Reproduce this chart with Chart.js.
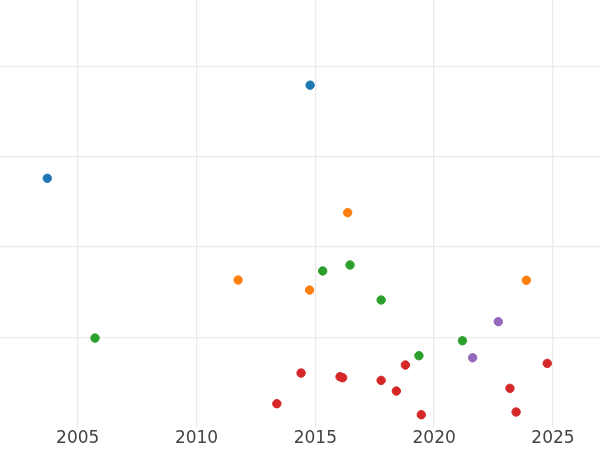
<!DOCTYPE html>
<html>
<head>
<meta charset="utf-8">
<script src="https://cdn.jsdelivr.net/npm/chart.js@4"></script>
<style>
  html, body { margin: 0; padding: 0; background: #fff; }
  #wrap { width: 600px; height: 450px; }
</style>
</head>
<body>
<div id="wrap"><canvas id="chart"></canvas></div>
<script>
// values (x = year, y = grid units)
const xTicks = [2005, 2010, 2015, 2020, 2025];
const yTicks = [1, 2, 3, 4];

const blueX = [2014.78, 2003.72];
const blueY = [3.79, 2.76];
const orangeX = [2016.36, 2011.75, 2014.76, 2023.88];
const orangeY = [2.38, 1.635, 1.524, 1.632];
const greenX = [2005.73, 2015.31, 2016.46, 2017.77, 2019.36, 2021.19];
const greenY = [0.993, 1.735, 1.801, 1.414, 0.798, 0.963];
const redX = [2014.40, 2013.38, 2016.04, 2016.15, 2017.77, 2018.41, 2018.79, 2019.46, 2023.19, 2023.45, 2024.76];
const redY = [0.606, 0.267, 0.565, 0.554, 0.525, 0.407, 0.695, 0.145, 0.437, 0.175, 0.713];
const purpleX = [2022.70, 2021.62];
const purpleY = [1.174, 0.775];

function pts(xs, ys) {
    return xs.map((x, i) => ({ x: x, y: ys[i] }));
}

function series(xs, ys, color) {
    return {
        data: pts(xs, ys),
        backgroundColor: color,
        borderColor: color,
        pointRadius: 4.2,
        borderWidth: 1
    };
}

const ctx = document.getElementById('chart').getContext('2d');
new Chart(ctx, {
    type: 'scatter',
    data: {
        datasets: [
            series(blueX, blueY, '#1f77b4'),
            series(orangeX, orangeY, '#ff7f0e'),
            series(greenX, greenY, '#2ca02c'),
            series(redX, redY, '#d62728'),
            series(purpleX, purpleY, '#9467bd')
        ]
    },
    options: {
        responsive: true,
        maintainAspectRatio: false,
        animation: false,
        layout: { padding: 0, autoPadding: false },
        plugins: { legend: { display: false }, tooltip: { enabled: false } },
        scales: {
            x: {
                type: 'linear',
                min: 2001.73,
                max: 2026.98,
                afterBuildTicks: s => { s.ticks = xTicks.map(v => ({ value: v })); },
                border: { display: false },
                grid: { color: '#ebebeb', lineWidth: 1.3, drawTicks: false },
                ticks: {
                    padding: 3,
                    color: '#444',
                    font: { family: 'DejaVu Sans', size: 17, lineHeight: 0.95 },
                    maxRotation: 0,
                    autoSkip: false,
                    callback: v => String(v)
                }
            },
            y: {
                type: 'linear',
                min: 0,
                max: 4.732,
                afterBuildTicks: s => { s.ticks = yTicks.map(v => ({ value: v })); },
                border: { display: false },
                grid: { color: '#ebebeb', lineWidth: 1.3, drawTicks: false },
                ticks: { display: false }
            }
        }
    }
});
</script>
</body>
</html>
